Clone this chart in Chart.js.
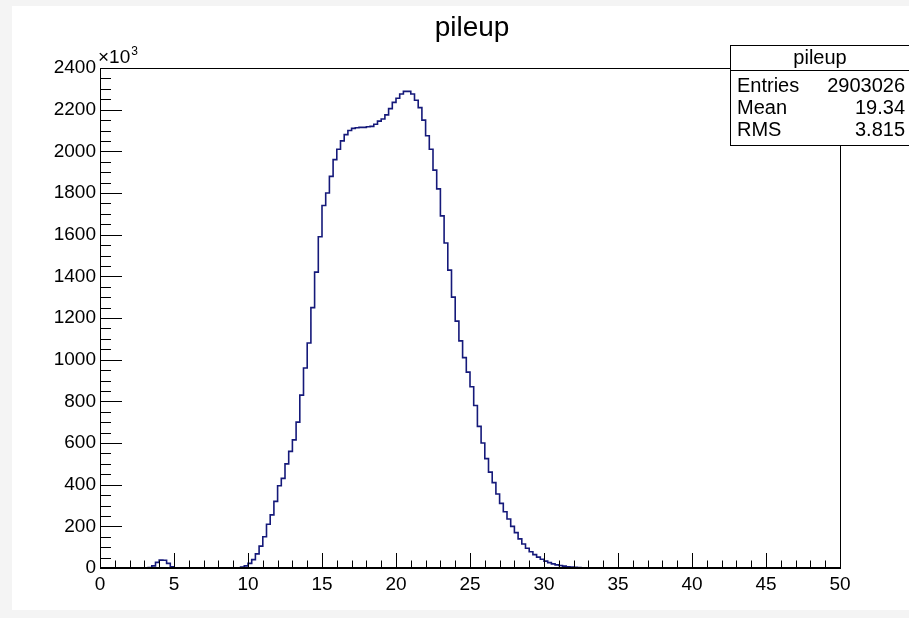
<!DOCTYPE html>
<html>
<head>
<meta charset="utf-8">
<title>pileup</title>
<script src="https://cdn.jsdelivr.net/npm/chart.js@4.4.1/dist/chart.umd.min.js"></script>
<style>
  html, body { margin: 0; padding: 0; background: #f4f4f4; }
  body { width: 909px; height: 618px; position: relative; overflow: hidden; }
  #chart { position: absolute; left: 12px; top: 6px; background: #ffffff; }
</style>
</head>
<body>
<canvas id="chart" width="897" height="604"></canvas>
<script>
// histogram bins: 0.25 wide, starting at 3.0 (everything outside is empty)
const binStart = 3.0;
const binWidth = 0.25;
// bin contents in units of 10^3
const counts = [
  0, 2, 10, 27, 38, 37, 22, 6,
  0, 0, 0, 0, 0, 0, 0, 0, 0, 0, 0, 0, 0, 0, 0, 0, 0,
  1, 4, 10,
  22, 40, 68, 105,
  150, 210, 255, 320,
  395, 430, 500, 560,
  615, 700, 830, 960,
  1080, 1250, 1420, 1590,
  1740, 1800, 1880, 1960,
  2010, 2050, 2080, 2100,
  2110, 2113, 2115, 2115,
  2118, 2120, 2130, 2145,
  2155, 2175, 2205, 2235,
  2255, 2275, 2288, 2288,
  2275, 2245, 2210, 2150,
  2075, 2010, 1910, 1820,
  1690, 1560, 1430, 1300,
  1185, 1090, 1010, 940,
  870, 780, 680, 600,
  525, 460, 410, 355,
  310, 270, 235, 200,
  170, 140, 115, 95,
  78, 64, 52, 42,
  33, 26, 20, 15,
  12, 9, 6, 4,
  3, 2, 1, 0.5,
  0
];

const xRange = [0, 50];
const yRange = [0, 2400];
const xMajor = 5, xMinor = 1;
const yMajor = 200, yMinor = 50;

const title = 'pileup';
const statsTitle = 'pileup';
const statsLabels = ['Entries', 'Mean', 'RMS'];
const statsValues = ['2903026', '19.34', '3.815'];

const lineColor = '#15197a';
const font = '"Liberation Sans", Arial, Helvetica, sans-serif';

// step points at the low edge of each bin, plus the closing edge
const points = counts.map((v, i) => ({ x: binStart + i * binWidth, y: v }));
points.push({ x: binStart + counts.length * binWidth, y: 0 });

const rootFrame = {
  id: 'rootFrame',
  afterDatasetsDraw(chart) {
    const ctx = chart.ctx;
    const a = chart.chartArea;
    const xs = chart.scales.x;
    const ys = chart.scales.y;
    ctx.save();
    ctx.strokeStyle = '#000000';
    ctx.lineWidth = 1;

    // frame
    ctx.strokeRect(a.left + 0.5, a.top + 0.5, a.right - a.left, a.bottom - a.top);
    ctx.lineWidth = 2;
    ctx.beginPath();
    ctx.moveTo(a.left, a.bottom);
    ctx.lineTo(a.right + 1, a.bottom);
    ctx.stroke();
    ctx.lineWidth = 1;

    // x ticks, drawn inside the frame
    ctx.beginPath();
    for (let v = xRange[0]; v <= xRange[1] + 1e-9; v += xMinor) {
      const px = Math.round(xs.getPixelForValue(v)) + 0.5;
      const len = (Math.abs(v % xMajor) < 1e-9) ? 15 : 7.5;
      ctx.moveTo(px, a.bottom);
      ctx.lineTo(px, a.bottom - len);
    }
    // y ticks
    for (let v = yRange[0]; v <= yRange[1] + 1e-9; v += yMinor) {
      const py = Math.round(ys.getPixelForValue(v)) + 0.5;
      const len = (Math.abs(v % yMajor) < 1e-9) ? 22 : 11;
      ctx.moveTo(a.left, py);
      ctx.lineTo(a.left + len, py);
    }
    ctx.stroke();

    // exponent label
    ctx.fillStyle = '#000000';
    ctx.textAlign = 'left';
    ctx.textBaseline = 'alphabetic';
    ctx.font = '19px ' + font;
    ctx.fillText('\u00d710', a.left - 2, a.top - 5);
    const w = ctx.measureText('\u00d710').width;
    ctx.font = '12px ' + font;
    ctx.fillText('3', a.left - 2 + w + 1, a.top - 13);

    // title
    ctx.font = '28px ' + font;
    ctx.textAlign = 'center';
    ctx.fillText(title, 460, 30);

    // stats box
    const bx = 718, by = 39, bw = 190, bh = 100;
    ctx.fillStyle = '#ffffff';
    ctx.fillRect(bx, by, bw, bh);
    ctx.strokeRect(bx + 0.5, by + 0.5, bw, bh);
    ctx.beginPath();
    ctx.moveTo(bx, by + 25.5);
    ctx.lineTo(bx + bw, by + 25.5);
    ctx.stroke();
    ctx.fillStyle = '#000000';
    ctx.font = '20px ' + font;
    ctx.textBaseline = 'middle';
    ctx.textAlign = 'center';
    ctx.fillText(statsTitle, 808, by + 13);
    statsLabels.forEach((lab, i) => {
      const ty = 80 + i * 22;
      ctx.textAlign = 'left';
      ctx.fillText(lab, 725, ty);
      ctx.textAlign = 'right';
      ctx.fillText(statsValues[i], 893, ty);
    });
    ctx.restore();
  }
};

new Chart(document.getElementById('chart'), {
  type: 'line',
  data: {
    datasets: [{
      label: 'pileup',
      data: points,
      stepped: true,
      borderColor: lineColor,
      borderWidth: 1.6,
      pointRadius: 0,
      fill: false,
      clip: 0
    }]
  },
  options: {
    responsive: false,
    animation: false,
    events: [],
    layout: { padding: { left: 0, top: 62, right: 69, bottom: 0 } },
    plugins: {
      legend: { display: false },
      tooltip: { enabled: false },
      title: { display: false }
    },
    scales: {
      x: {
        type: 'linear',
        min: xRange[0],
        max: xRange[1],
        grid: { display: false, drawTicks: false, tickLength: 0 },
        border: { display: false },
        afterFit(scale) { scale.height = 42; },
        ticks: {
          stepSize: xMajor,
          autoSkip: false,
          maxRotation: 0,
          padding: 5,
          color: '#000000',
          font: { family: font, size: 19 },
          callback: (v) => String(v)
        }
      },
      y: {
        type: 'linear',
        min: yRange[0],
        max: yRange[1],
        grid: { display: false, drawTicks: false, tickLength: 0 },
        border: { display: false },
        afterFit(scale) { scale.width = 88; },
        ticks: {
          stepSize: yMajor,
          autoSkip: false,
          padding: 4,
          color: '#000000',
          font: { family: font, size: 19 },
          callback: (v) => String(v)
        }
      }
    }
  },
  plugins: [rootFrame]
});
</script>
</body>
</html>
